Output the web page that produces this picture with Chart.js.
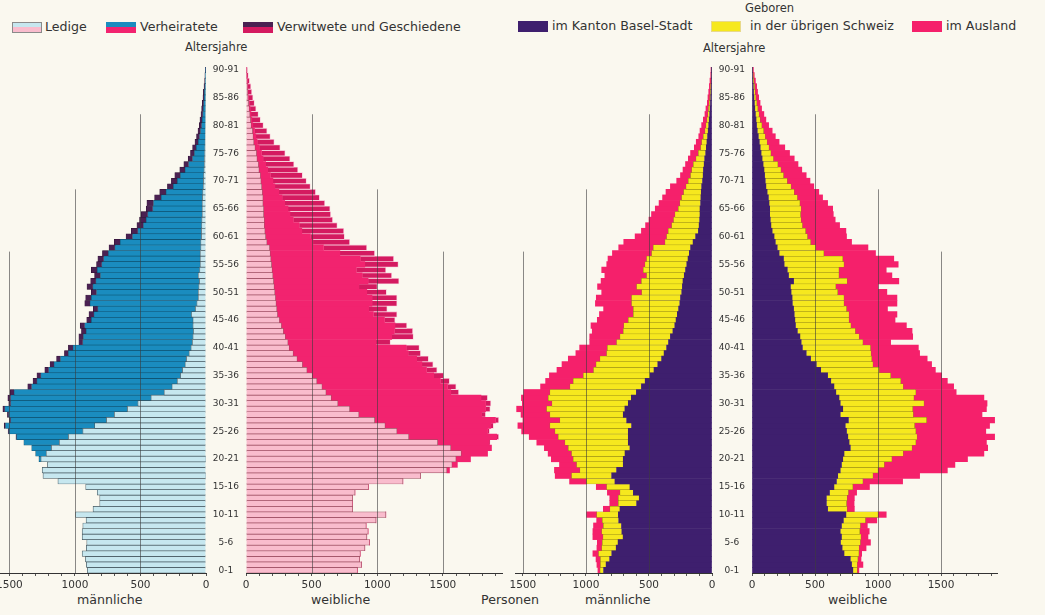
<!DOCTYPE html>
<html>
<head>
<meta charset="utf-8">
<script src="https://cdn.jsdelivr.net/npm/chart.js@4.4.1/dist/chart.umd.min.js"></script>
<style>
    html, body { margin: 0; padding: 0; background: #faf8ef; }
    #page { position: relative; width: 1045px; height: 615px; overflow: hidden; font-family: 'DejaVu Sans', sans-serif; color: #333; }
    canvas { position: absolute; }
    .txt { position: absolute; font-size: 12.6px; line-height: 14px; white-space: nowrap; }
    .sw { position: absolute; width: 30px; height: 11px; box-sizing: border-box; }
</style>
</head>
<body>
<div id="page">
    <div class="sw" style="left:12px;top:22px;background:linear-gradient(#c6e7ef 0 50%, #f9bccd 50% 100%);border:1px solid #8a8a8a"></div>
    <div class="txt" style="left:45px;top:20px">Ledige</div>
    <div class="sw" style="left:106px;top:22px;background:linear-gradient(#1a8cbf 0 50%, #f2236f 50% 100%)"></div>
    <div class="txt" style="left:140px;top:20px">Verheiratete</div>
    <div class="sw" style="left:243px;top:22px;background:linear-gradient(#4a2152 0 50%, #d41a60 50% 100%)"></div>
    <div class="txt" style="left:277px;top:20px">Verwitwete und Geschiedene</div>
    <div class="txt" style="left:185px;top:40px;font-size:11.5px">Altersjahre</div>

    <div class="txt" style="left:745px;top:1px;font-size:11.5px">Geboren</div>
    <div class="sw" style="left:518px;top:21px;background:#3e1f6e"></div>
    <div class="txt" style="left:552px;top:19px">im Kanton Basel-Stadt</div>
    <div class="sw" style="left:711px;top:21px;background:#f6e81e;border:1px solid #e8d98a"></div>
    <div class="txt" style="left:750px;top:19px">in der übrigen Schweiz</div>
    <div class="sw" style="left:912px;top:21px;background:#f5206b"></div>
    <div class="txt" style="left:946px;top:19px">im Ausland</div>
    <div class="txt" style="left:703px;top:41px;font-size:11.5px">Altersjahre</div>

    <div class="txt" style="left:77px;top:593px">männliche</div>
    <div class="txt" style="left:311px;top:593px">weibliche</div>
    <div class="txt" style="left:481px;top:593px">Personen</div>
    <div class="txt" style="left:585px;top:593px">männliche</div>
    <div class="txt" style="left:828px;top:593px">weibliche</div>

    <canvas id="leftMale" width="230" height="560" style="left:-12px;top:55px"></canvas>
    <canvas id="leftFemale" width="308" height="560" style="left:206px;top:55px"></canvas>
    <canvas id="rightMale" width="221" height="560" style="left:503px;top:55px"></canvas>
    <canvas id="rightFemale" width="297" height="560" style="left:712px;top:55px"></canvas>
</div>
<script>
// ages 0..90, one value per year of age
const maleSingle = [
    905, 913, 920, 945, 913, 910, 945, 945, 940, 915,
    995, 862, 811, 811, 830, 918, 1130, 1244, 1250, 1210,
    1260, 1220, 1180, 1120, 1050, 940, 850, 760, 700, 600,
    520, 420, 320, 260, 220, 195, 180, 160, 150, 130,
    115, 105, 100, 95, 100, 100, 110, 80, 70, 60,
    60, 55, 50, 60, 48, 45, 45, 45, 40, 40,
    35, 35, 33, 32, 30, 30, 30, 28, 25, 22,
    20, 18, 16, 14, 12, 10, 9, 8, 7, 6,
    5, 4, 4, 3, 3, 2, 2, 1, 1, 1,
    0,
];
const maleMarried = [
    0, 0, 0, 0, 0, 0, 0, 0, 0, 0,
    0, 0, 0, 0, 0, 0, 0, 0, 0, 0,
    15, 80, 150, 270, 395, 565, 680, 730, 805, 935,
    970, 1070, 1145, 1070, 1070, 1065, 1020, 1000, 960, 920,
    900, 835, 835, 820, 825, 775, 745, 745, 815, 815,
    775, 808, 790, 745, 782, 750, 735, 700, 655, 615,
    525, 485, 444, 425, 414, 376, 370, 314, 280, 227,
    199, 177, 144, 118, 90, 78, 65, 51, 42, 35,
    28, 25, 20, 17, 14, 12, 10, 8, 5, 4,
    3,
];
const maleWidowed = [
    0, 0, 0, 0, 0, 0, 0, 0, 0, 0,
    0, 0, 0, 0, 0, 0, 0, 0, 0, 0,
    0, 0, 0, 0, 5, 5, 10, 10, 10, 15,
    15, 22, 29, 30, 30, 30, 30, 30, 30, 30,
    35, 30, 35, 35, 35, 35, 38, 35, 40, 43,
    40, 45, 40, 45, 45, 40, 45, 45, 45, 45,
    50, 50, 50, 50, 50, 50, 51, 50, 48, 45,
    45, 43, 40, 37, 34, 30, 28, 25, 23, 20,
    18, 17, 14, 13, 11, 9, 8, 6, 4, 3,
    2,
];
const femaleSingle = [
    848, 880, 865, 870, 905, 940, 920, 930, 915, 990,
    1065, 812, 810, 812, 830, 932, 1195, 1330, 1530, 1570,
    1600, 1640, 1560, 1460, 1240, 1150, 1060, 980, 860, 790,
    700, 650, 610, 580, 540, 505, 465, 430, 390, 360,
    330, 320, 300, 285, 270, 255, 240, 235, 230, 225,
    220, 215, 210, 205, 200, 195, 190, 185, 180, 160,
    150, 145, 140, 140, 135, 135, 130, 130, 125, 120,
    115, 110, 100, 95, 85, 80, 70, 60, 55, 50,
    40, 35, 30, 25, 20, 15, 12, 10, 8, 5,
    3,
];
const femaleMarried = [
    0, 0, 0, 0, 0, 0, 0, 0, 0, 0,
    0, 0, 0, 0, 0, 0, 0, 0, 20, 40,
    110, 200, 310, 390, 670, 690, 805, 920, 935, 1035,
    1125, 1140, 950, 955, 940, 925, 910, 910, 910, 875,
    890, 670, 810, 845, 865, 800, 730, 700, 730, 735,
    700, 645, 720, 680, 640, 710, 680, 530, 410, 350,
    340, 280, 265, 220, 200, 185, 165, 145, 125, 100,
    90, 75, 65, 55, 45, 38, 30, 25, 20, 15,
    12, 10, 8, 6, 4, 3, 2, 2, 1, 1,
    0,
];
const femaleWidowed = [
    0, 0, 0, 0, 0, 0, 0, 0, 0, 0,
    0, 0, 0, 0, 0, 0, 0, 0, 0, 0,
    0, 0, 0, 10, 15, 15, 20, 25, 30, 35,
    40, 50, 60, 65, 70, 75, 80, 85, 90, 95,
    100, 110, 165, 140, 90, 80, 180, 140, 190, 190,
    150, 140, 235, 225, 225, 255, 255, 265, 330, 280,
    260, 320, 290, 300, 310, 320, 305, 285, 280, 270,
    255, 245, 230, 215, 205, 180, 160, 130, 110, 95,
    80, 65, 56, 45, 40, 35, 30, 25, 18, 12,
    8,
];
const maleBasel = [
    860, 840, 812, 795, 760, 745, 705, 715, 718, 740,
    743, 730, 598, 577, 624, 651, 770, 796, 757, 704,
    704, 690, 651, 664, 664, 664, 638, 677, 704, 691,
    664, 640, 600, 560, 530, 490, 460, 430, 400, 380,
    360, 345, 330, 310, 295, 285, 275, 265, 255, 250,
    240, 235, 230, 220, 210, 200, 190, 180, 170, 150,
    130, 108, 102, 98, 95, 95, 90, 88, 85, 82,
    75, 70, 68, 62, 58, 50, 45, 40, 35, 30,
    26, 22, 18, 15, 12, 10, 8, 6, 5, 3,
    2,
];
const maleSwiss = [
    28, 45, 73, 105, 115, 125, 160, 160, 144, 130,
    172, 80, 145, 166, 106, 185, 225, 318, 291, 370,
    397, 424, 489, 503, 556, 582, 648, 530, 582, 621,
    606, 659, 686, 567, 571, 531, 480, 490, 489, 456,
    470, 412, 400, 394, 405, 379, 349, 359, 383, 388,
    318, 363, 330, 299, 335, 332, 329, 299, 296, 223,
    230, 239, 218, 207, 199, 172, 165, 153, 140, 124,
    113, 100, 93, 86, 69, 58, 45, 42, 34, 26,
    22, 18, 15, 13, 10, 8, 6, 5, 3, 3,
    2,
];
const maleForeign = [
    17, 28, 35, 45, 38, 40, 80, 70, 78, 45,
    80, 52, 68, 68, 100, 82, 135, 130, 202, 136,
    174, 186, 190, 223, 230, 264, 254, 293, 229, 238,
    235, 213, 208, 233, 219, 269, 290, 270, 251, 244,
    220, 213, 240, 246, 260, 246, 269, 236, 287, 280,
    317, 310, 320, 331, 330, 303, 306, 311, 274, 327,
    250, 213, 207, 195, 186, 183, 165, 151, 140, 124,
    92, 80, 69, 62, 61, 62, 50, 43, 36, 39,
    34, 29, 23, 20, 15, 14, 12, 10, 8, 4,
    4,
];
const femaleBasel = [
    800, 790, 780, 730, 715, 702, 710, 700, 710, 725,
    745, 600, 590, 590, 615, 650, 670, 680, 700, 710,
    720, 730, 780, 770, 760, 750, 740, 765, 700, 720,
    700, 690, 665, 650, 625, 600, 545, 510, 465, 430,
    400, 390, 380, 360, 345, 340, 335, 330, 320, 318,
    310, 305, 330, 290, 280, 255, 250, 215, 200, 185,
    175, 160, 150, 145, 140, 140, 135, 130, 120, 110,
    105, 100, 95, 88, 80, 72, 65, 58, 50, 42,
    36, 32, 27, 22, 19, 15, 12, 10, 7, 5,
    3,
];
const femaleSwiss = [
    35, 45, 60, 118, 135, 158, 155, 155, 150, 175,
    255, 155, 160, 165, 150, 150, 210, 280, 300, 340,
    390, 470, 490, 530, 550, 550, 550, 620, 580, 555,
    665, 595, 635, 550, 555, 500, 465, 450, 485, 515,
    540, 490, 470, 460, 440, 430, 435, 420, 410, 412,
    370, 360, 425, 400, 410, 475, 470, 355, 305, 280,
    265, 265, 250, 245, 245, 250, 245, 230, 215, 200,
    175, 150, 135, 117, 90, 78, 70, 62, 55, 50,
    42, 33, 29, 24, 19, 15, 13, 10, 7, 5,
    3,
];
const femaleForeign = [
    13, 45, 25, 22, 55, 80, 55, 75, 55, 90,
    65, 57, 60, 57, 65, 132, 315, 370, 550, 560,
    600, 640, 600, 560, 615, 555, 595, 540, 545, 585,
    500, 555, 320, 400, 370, 405, 445, 465, 440, 385,
    380, 220, 425, 450, 440, 365, 380, 325, 420, 420,
    390, 335, 410, 420, 375, 430, 405, 410, 415, 325,
    310, 320, 295, 270, 260, 250, 220, 200, 195, 180,
    180, 180, 165, 160, 165, 148, 125, 95, 80, 68,
    54, 45, 38, 30, 26, 23, 19, 17, 13, 8,
    5,
];

const ageLabels = Array.from({ length: 91 }, (_, a) => a + '-' + (a + 1));

// the vertical guide lines only rise to a certain age: [persons, top age]
const gridReach = [[500, 82], [1000, 68.5], [1500, 57.3]];

Chart.defaults.font.family = "'DejaVu Sans', sans-serif";
Chart.defaults.color = '#333';

const partialGrid = {
    id: 'partialGrid',
    afterDatasetsDraw(chart, args, opts) {
        const { ctx, chartArea } = chart;
        const x = chart.scales.x;
        const y = chart.scales.y;
        ctx.save();
        ctx.strokeStyle = 'rgba(60,60,60,0.75)';
        ctx.lineWidth = 0.8;
        opts.lines.forEach(([value, topAge]) => {
            const px = Math.round(x.getPixelForValue(value)) + 0.5;
            ctx.beginPath();
            ctx.moveTo(px, chartArea.bottom);
            ctx.lineTo(px, y.getPixelForValue(topAge));
            ctx.stroke();
        });
        ctx.restore();
    },
};

const pyramid = (id, datasets, female, max) => new Chart(document.getElementById(id), {
    type: 'bar',
    data: { labels: ageLabels, datasets },
    options: {
        indexAxis: 'y',
        responsive: false,
        animation: false,
        layout: { padding: { top: 12, bottom: 0, left: female ? 0 : 12, right: 12 } },
        datasets: { bar: { barPercentage: 1, categoryPercentage: 1 } },
        plugins: {
            legend: { display: false },
            tooltip: { enabled: false },
            partialGrid: { lines: gridReach },
        },
        scales: {
            x: {
                stacked: true,
                reverse: !female,
                min: 0,
                max,
                afterFit: (s) => { s.height = 42; },
                grid: { drawOnChartArea: false, drawTicks: true, tickLength: 3, color: '#555' },
                border: { color: '#333', width: 1 },
                ticks: {
                    stepSize: 100,
                    autoSkip: false,
                    includeBounds: false,
                    maxRotation: 0,
                    padding: 3,
                    font: { size: 10.5 },
                    callback: (v) => (v % 500 === 0 ? v : ''),
                },
            },
            y: {
                stacked: true,
                reverse: true,
                display: female,
                afterFit: (s) => { if (female) s.width = 40; },
                grid: { display: false },
                border: { display: false },
                ticks: {
                    autoSkip: false,
                    crossAlign: 'center',
                    padding: -1,
                    font: { size: 9 },
                    callback: (v, i) => (i % 5 === 0 ? ageLabels[i] : ''),
                },
            },
        },
    },
    plugins: [partialGrid],
});

pyramid('leftMale', [
    { label: 'Ledige', data: maleSingle, backgroundColor: '#c6e7ef', borderColor: '#44565e', borderWidth: 0.7 },
    { label: 'Verheiratete', data: maleMarried, backgroundColor: '#1a8cbf', borderColor: '#0e4f6c', borderWidth: 0.6 },
    { label: 'Verwitwete und Geschiedene', data: maleWidowed, backgroundColor: '#4a2152', borderColor: '#2c1030', borderWidth: 0.5 },
], false, 1572);

pyramid('leftFemale', [
    { label: 'Ledige', data: femaleSingle, backgroundColor: '#f9bccd', borderColor: '#9c4d60', borderWidth: 0.7 },
    { label: 'Verheiratete', data: femaleMarried, backgroundColor: '#f2236f', borderWidth: 0 },
    { label: 'Verwitwete und Geschiedene', data: femaleWidowed, backgroundColor: '#d41a60', borderColor: '#f7c6d6', borderWidth: 0.8 },
], true, 1950);

pyramid('rightMale', [
    { label: 'im Kanton Basel-Stadt', data: maleBasel, backgroundColor: '#3e1f6e', borderWidth: 0 },
    { label: 'in der übrigen Schweiz', data: maleSwiss, backgroundColor: '#f6e81e', borderColor: '#8c7f14', borderWidth: 0.5 },
    { label: 'im Ausland', data: maleForeign, backgroundColor: '#f5206b', borderWidth: 0 },
], false, 1563);

pyramid('rightFemale', [
    { label: 'im Kanton Basel-Stadt', data: femaleBasel, backgroundColor: '#3e1f6e', borderWidth: 0 },
    { label: 'in der übrigen Schweiz', data: femaleSwiss, backgroundColor: '#f6e81e', borderColor: '#8c7f14', borderWidth: 0.5 },
    { label: 'im Ausland', data: femaleForeign, backgroundColor: '#f5206b', borderWidth: 0 },
], true, 1944);
</script>
</body>
</html>
